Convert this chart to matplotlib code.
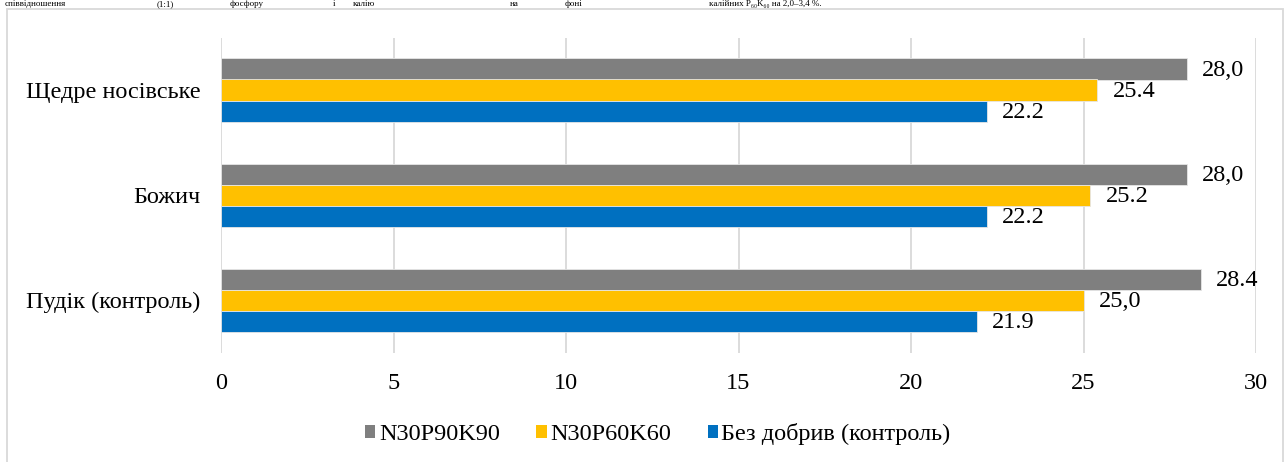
import matplotlib
matplotlib.use("Agg")
import matplotlib.pyplot as plt
from matplotlib.patches import Patch, Rectangle

plt.rcParams['font.family'] = ['Liberation Serif', 'DejaVu Serif']

categories = ["Пудік (контроль)", "Божич", "Щедре носівське"]
series_names = ["N30P90K90", "N30P60K60", "Без добрив (контроль)"]
vals_p90 = [28.4, 28.0, 28.0]
vals_p60 = [25.0, 25.2, 25.4]
vals_ctrl = [21.9, 22.2, 22.2]
labels_p90 = ["28.4", "28,0", "28,0"]
labels_p60 = ["25,0", "25.2", "25.4"]
labels_ctrl = ["21.9", "22.2", "22.2"]
xticks = [0, 5, 10, 15, 20, 25, 30]

colors = ["#7F7F7F", "#FFC000", "#0070C0"]
FS = 17.5

W, H = 1287, 462
fig = plt.figure(figsize=(W / 100, H / 100), dpi=100)
ax = fig.add_axes([221 / W, 1 - 352.5 / H, (1256 - 221) / W, 315 / H])

bh = 0.2
offsets = [bh, 0.0, -bh]
series = [vals_p90, vals_p60, vals_ctrl]
labels = [labels_p90, labels_p60, labels_ctrl]
ypos = list(range(len(categories)))
for s, (vals, labs, off, c) in enumerate(zip(series, labels, offsets, colors)):
    bars = ax.barh([y + off for y in ypos], vals, height=bh, color=c,
                   edgecolor="#E6E6E6", linewidth=0.6, zorder=3)
    for b, lab in zip(bars, labs):
        ax.annotate(lab, (b.get_width(), b.get_y() + b.get_height() / 2),
                    xytext=(11, -1), textcoords="offset points",
                    ha="left", va="center", fontsize=FS, color="#000000")

ax.set_xlim(0, 30)
ax.set_ylim(-0.5, len(categories) - 0.5)
ax.set_xticks(xticks)
ax.set_xticklabels([str(t) for t in xticks], fontsize=FS)
ax.set_yticks(ypos)
ax.set_yticklabels(categories, fontsize=FS)
ax.tick_params(axis='both', length=0)
ax.tick_params(axis='x', pad=15)
ax.tick_params(axis='y', pad=15)
for sp in ax.spines.values():
    sp.set_visible(False)
ax.grid(axis='x', color="#D9D9D9", linewidth=1.3, zorder=0)
ax.set_axisbelow(True)

handles = [Patch(facecolor=c, edgecolor='none') for c in colors]
fig.legend(handles, series_names, loc='center', bbox_to_anchor=(658 / W, 1 - 434 / H),
           ncol=3, frameon=False, fontsize=FS, handlelength=0.42, handleheight=0.42,
           handletextpad=0.15, columnspacing=1.5)

# chart border
fig.patches.append(Rectangle((7 / W, -0.1), (1283 - 7) / W, 1.1 - 9 / H,
                             transform=fig.transFigure, fill=False,
                             edgecolor="#D9D9D9", linewidth=1.3))

# text line above the chart (shrunk to fit above the chart border)
top_words = [(5, "співвідношення"), (157, "(1:1)"), (230, "фосфору"), (333, "і"),
             (353, "калію"), (510, "на"), (565, "фоні"),
             (709, "калійних P₆₀K₆₀ на 2,0–3,4 %.")]
for x, w in top_words:
    fig.text(x / W, 1 - 6.5 / H, w, ha='left', va='baseline', fontsize=6.5)

fig.savefig("out.png", dpi=100)
